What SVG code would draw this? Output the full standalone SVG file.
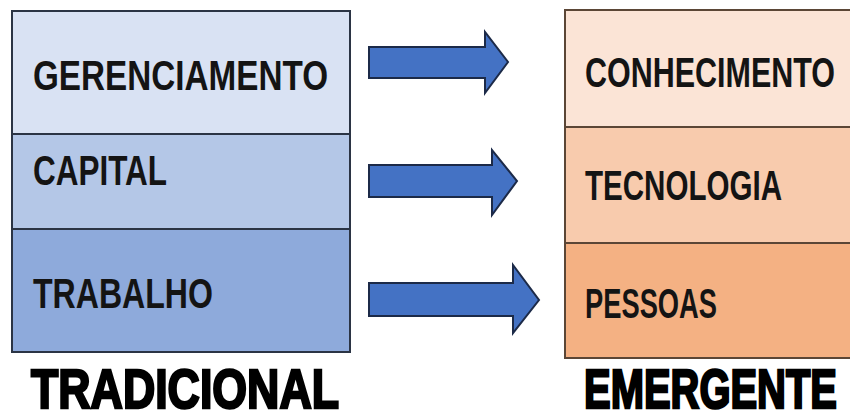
<svg xmlns="http://www.w3.org/2000/svg" width="850" height="420" viewBox="0 0 850 420">
<style>
.lb{stroke:#2b3444;stroke-width:2}
.rb{stroke:#5b4636;stroke-width:2}
.t{font-family:"Liberation Sans",Arial,sans-serif;font-weight:bold;font-size:30px;fill:#141414}
.h{font-family:"Liberation Sans",Arial,sans-serif;font-weight:bold;font-size:40px;fill:#000;stroke:#000;stroke-width:1.8}
.arr{fill:#4472c4;stroke:#1c2a48;stroke-width:2;stroke-linejoin:miter}
</style>
<rect width="850" height="420" fill="#ffffff"/>
<g id="tradicional">
<g id="gerenciamento"><rect class="lb" x="12" y="11" width="338" height="123" fill="#d9e2f3"/><text class="t" transform="translate(33,90) scale(1,1.433)" textLength="295" lengthAdjust="spacingAndGlyphs">GERENCIAMENTO</text></g>
<g id="capital"><rect class="lb" x="12" y="134" width="338" height="95" fill="#b4c7e7"/><text class="t" transform="translate(33,185) scale(1,1.433)" textLength="134" lengthAdjust="spacingAndGlyphs">CAPITAL</text></g>
<g id="trabalho"><rect class="lb" x="12" y="229" width="338" height="123" fill="#8eaadb"/><text class="t" transform="translate(33,308) scale(1,1.433)" textLength="180" lengthAdjust="spacingAndGlyphs">TRABALHO</text></g>
<text class="h" transform="translate(31,408) scale(1,1.4)" textLength="308" lengthAdjust="spacingAndGlyphs">TRADICIONAL</text>
</g>
<g id="emergente">
<g id="conhecimento"><rect class="rb" x="565" y="10" width="286" height="117" fill="#fbe4d6"/><text class="t" transform="translate(585,87) scale(1,1.433)" textLength="250" lengthAdjust="spacingAndGlyphs">CONHECIMENTO</text></g>
<g id="tecnologia"><rect class="rb" x="565" y="127" width="286" height="116" fill="#f8cbad"/><text class="t" transform="translate(585,200) scale(1,1.433)" textLength="197" lengthAdjust="spacingAndGlyphs">TECNOLOGIA</text></g>
<g id="pessoas"><rect class="rb" x="565" y="243" width="286" height="115" fill="#f4b183"/><text class="t" transform="translate(585,318) scale(1,1.433)" textLength="132" lengthAdjust="spacingAndGlyphs">PESSOAS</text></g>
<text class="h" transform="translate(584,408) scale(1,1.4)" textLength="253" lengthAdjust="spacingAndGlyphs">EMERGENTE</text>
</g>
<g id="connectors">
<polygon class="arr" points="369,47 485,47 485,32 508,62 485,93 485,78 369,78"/>
<polygon class="arr" points="369,165 492,165 492,150 517,181 492,215 492,197 369,197"/>
<polygon class="arr" points="369,283 513,283 513,265 539,300 513,333 513,316 369,316"/>
</g>
</svg>
